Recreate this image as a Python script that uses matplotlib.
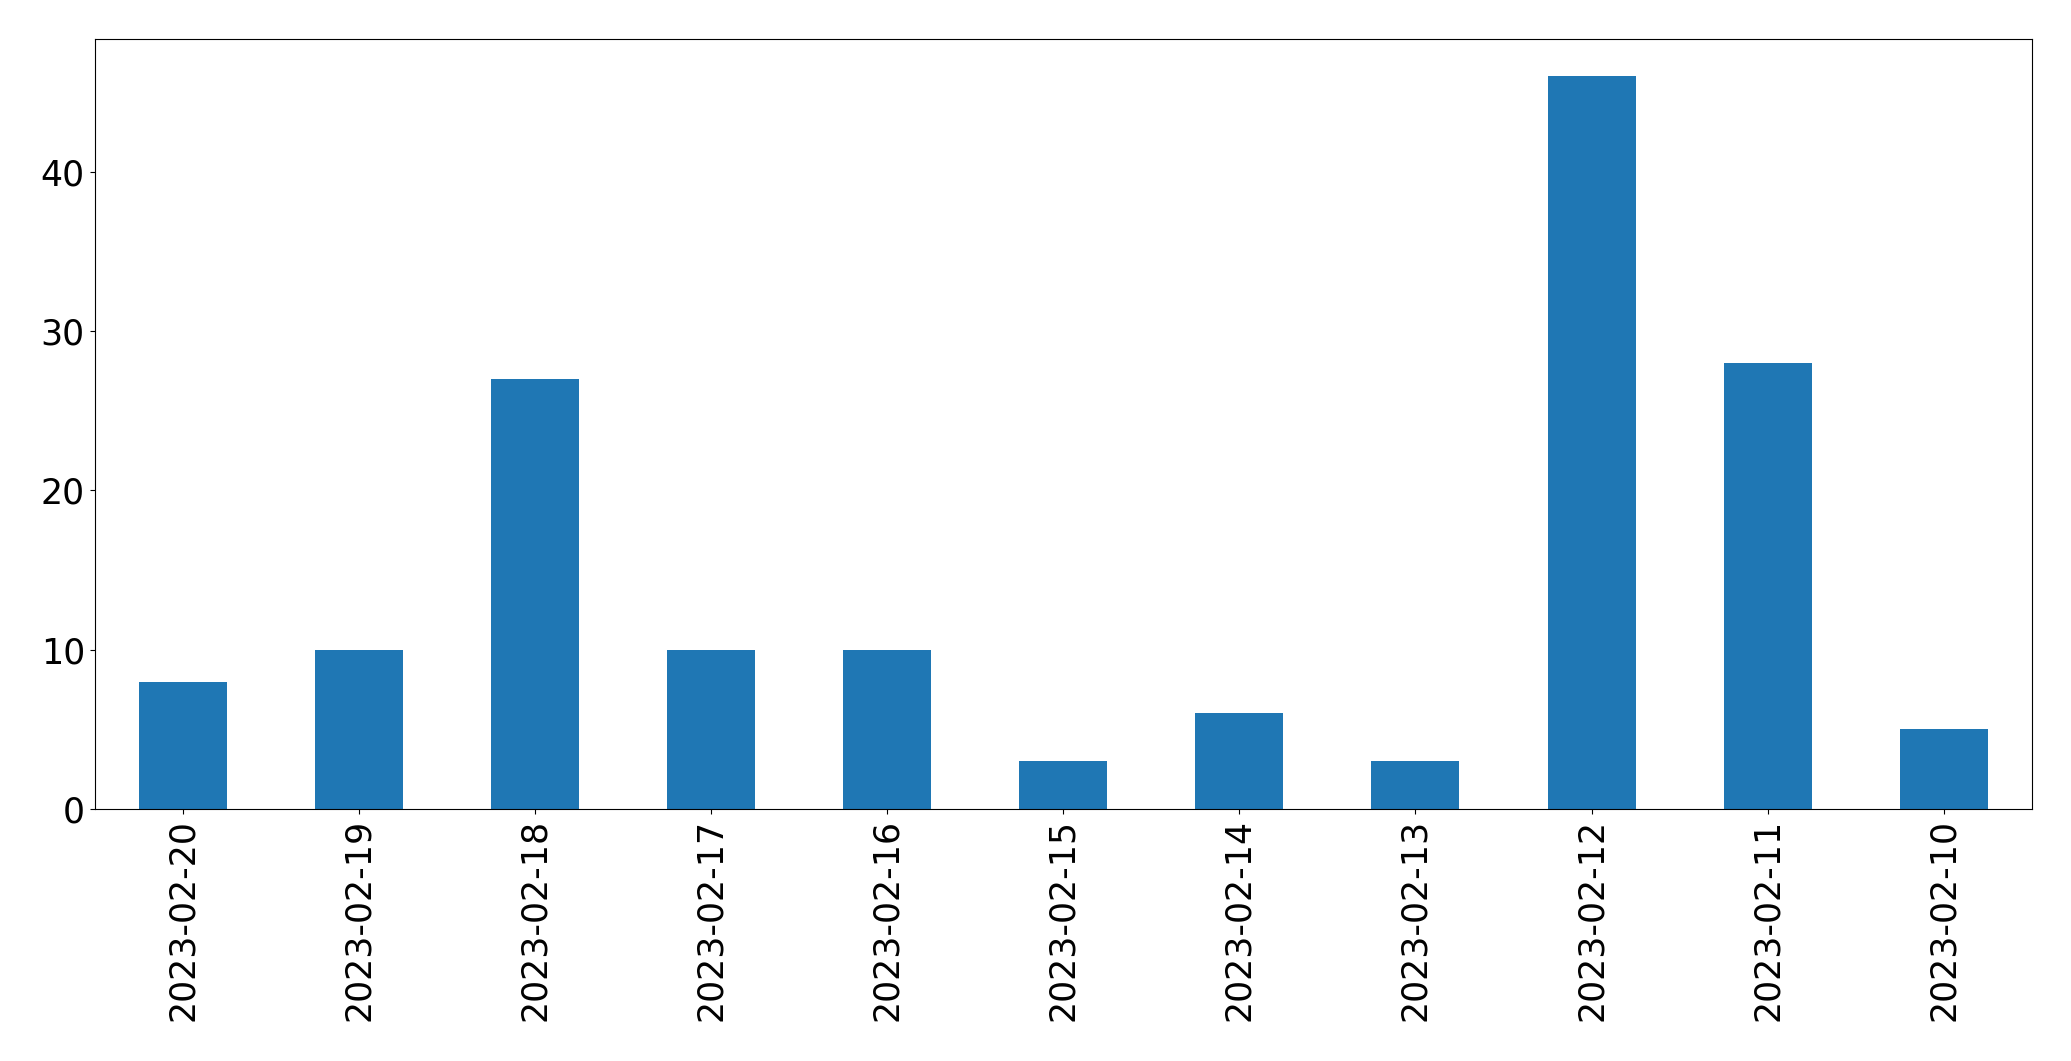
import matplotlib
matplotlib.use("Agg")
import matplotlib.pyplot as plt
import pandas as pd

dates = ["2023-02-20", "2023-02-19", "2023-02-18", "2023-02-17", "2023-02-16",
         "2023-02-15", "2023-02-14", "2023-02-13", "2023-02-12", "2023-02-11",
         "2023-02-10"]
counts = [8, 10, 27, 10, 10, 3, 6, 3, 46, 28, 5]

s = pd.Series(counts, index=dates)

fig = plt.figure(figsize=(20.71, 10.61), dpi=100)
ax = fig.add_axes([0.0457, 0.2375, 0.9354, 0.7255])
s.plot(kind="bar", ax=ax, color="#1f77b4", fontsize=25)
ax.set_xlim(-0.5, len(dates) - 0.5)
ax.tick_params(axis="x", labelrotation=90)

plt.savefig("out.png", dpi=100)
plt.close()
